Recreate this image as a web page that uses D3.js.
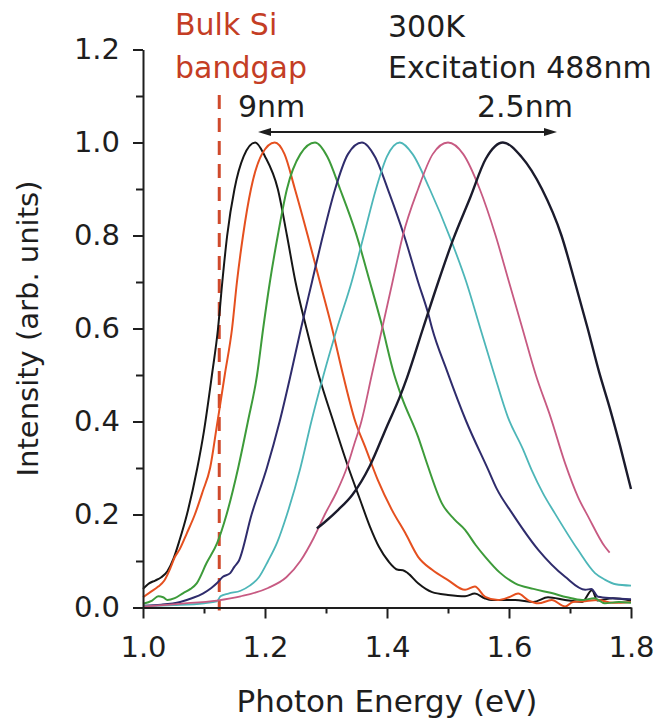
<!DOCTYPE html>
<html>
<head>
<meta charset="utf-8">
<script src="https://cdn.jsdelivr.net/npm/d3@7"></script>
<style>
  body { margin: 0; background: #fff; }
  svg { display: block; }
  text { font-family: 'DejaVu Sans', sans-serif; fill: #1e1e1e; }
</style>
</head>
<body>
<div id="chart"></div>
<script>
// x ticks / y ticks
var xTicks = [1.0, 1.2, 1.4, 1.6, 1.8]
var yTicks = [0.0, 0.2, 0.4, 0.6, 0.8, 1.0, 1.2]
var xMinor = [1.1, 1.3, 1.5, 1.7]
var yMinor = [0.1, 0.3, 0.5, 0.7, 0.9, 1.1]

var bandgap = 1.125

// spectra [photon energy eV, intensity]
var s9nm = [[1.000,0.040],[1.010,0.052],[1.020,0.058],[1.030,0.065],[1.040,0.078],[1.050,0.105],[1.060,0.145],[1.072,0.200],[1.089,0.300],[1.100,0.380],[1.113,0.500],[1.123,0.600],[1.130,0.700],[1.138,0.800],[1.150,0.900],[1.165,0.970],[1.184,1.000],[1.200,0.970],[1.221,0.900],[1.236,0.800],[1.250,0.700],[1.268,0.600],[1.288,0.500],[1.312,0.400],[1.337,0.300],[1.355,0.235],[1.372,0.174],[1.387,0.130],[1.402,0.100],[1.418,0.081],[1.426,0.080],[1.434,0.074],[1.451,0.052],[1.474,0.033],[1.500,0.027],[1.528,0.024],[1.544,0.030],[1.560,0.020],[1.572,0.016],[1.610,0.016],[1.640,0.012],[1.664,0.022],[1.692,0.016],[1.720,0.012],[1.736,0.037],[1.745,0.015],[1.770,0.020],[1.800,0.015]]
var s8nm = [[1.000,0.022],[1.012,0.033],[1.025,0.045],[1.035,0.058],[1.045,0.085],[1.052,0.108],[1.060,0.125],[1.072,0.160],[1.085,0.200],[1.098,0.250],[1.110,0.300],[1.121,0.390],[1.134,0.500],[1.146,0.600],[1.154,0.700],[1.164,0.800],[1.177,0.900],[1.195,0.975],[1.216,1.000],[1.232,0.975],[1.249,0.900],[1.270,0.800],[1.290,0.700],[1.310,0.600],[1.328,0.500],[1.348,0.400],[1.364,0.346],[1.385,0.274],[1.408,0.210],[1.430,0.160],[1.451,0.109],[1.474,0.081],[1.500,0.059],[1.528,0.038],[1.544,0.045],[1.561,0.023],[1.582,0.016],[1.600,0.022],[1.615,0.030],[1.631,0.016],[1.648,0.009],[1.670,0.016],[1.692,0.002],[1.705,0.012],[1.720,0.013],[1.746,0.016],[1.770,0.010],[1.800,0.012]]
var s6nm = [[1.000,0.008],[1.015,0.015],[1.025,0.024],[1.033,0.022],[1.040,0.016],[1.052,0.020],[1.066,0.031],[1.078,0.040],[1.088,0.052],[1.104,0.095],[1.122,0.140],[1.137,0.200],[1.156,0.300],[1.172,0.400],[1.187,0.500],[1.197,0.600],[1.208,0.700],[1.221,0.800],[1.236,0.900],[1.258,0.975],[1.282,1.000],[1.302,0.970],[1.323,0.900],[1.349,0.805],[1.372,0.700],[1.391,0.610],[1.412,0.500],[1.424,0.453],[1.451,0.367],[1.466,0.308],[1.490,0.224],[1.510,0.190],[1.528,0.167],[1.545,0.135],[1.561,0.109],[1.585,0.075],[1.610,0.052],[1.640,0.040],[1.670,0.031],[1.695,0.022],[1.720,0.016],[1.740,0.020],[1.757,0.009],[1.780,0.012],[1.800,0.010]]
var s5nm = [[1.000,0.004],[1.030,0.006],[1.061,0.012],[1.080,0.020],[1.098,0.030],[1.112,0.042],[1.121,0.052],[1.131,0.066],[1.143,0.074],[1.150,0.088],[1.157,0.100],[1.178,0.200],[1.203,0.300],[1.224,0.400],[1.242,0.500],[1.259,0.600],[1.277,0.700],[1.295,0.800],[1.315,0.900],[1.336,0.975],[1.359,1.000],[1.380,0.970],[1.404,0.890],[1.428,0.800],[1.451,0.700],[1.468,0.630],[1.474,0.600],[1.498,0.510],[1.530,0.400],[1.566,0.296],[1.580,0.255],[1.605,0.203],[1.648,0.124],[1.692,0.066],[1.725,0.038],[1.735,0.040],[1.746,0.023],[1.770,0.020],[1.800,0.018]]
var s4nm = [[1.000,0.003],[1.050,0.005],[1.100,0.009],[1.121,0.013],[1.127,0.024],[1.140,0.030],[1.160,0.036],[1.175,0.047],[1.190,0.065],[1.205,0.100],[1.220,0.140],[1.236,0.200],[1.258,0.300],[1.276,0.400],[1.296,0.500],[1.318,0.600],[1.342,0.700],[1.362,0.800],[1.382,0.900],[1.400,0.970],[1.421,1.000],[1.442,0.975],[1.470,0.900],[1.505,0.790],[1.530,0.700],[1.553,0.600],[1.575,0.505],[1.598,0.410],[1.623,0.340],[1.637,0.296],[1.656,0.245],[1.675,0.203],[1.713,0.124],[1.741,0.074],[1.757,0.060],[1.775,0.050],[1.800,0.047]]
var s3nm = [[1.000,0.002],[1.060,0.008],[1.121,0.015],[1.160,0.024],[1.205,0.042],[1.235,0.065],[1.258,0.100],[1.280,0.150],[1.298,0.200],[1.318,0.250],[1.334,0.300],[1.346,0.350],[1.358,0.400],[1.375,0.500],[1.392,0.600],[1.409,0.700],[1.426,0.800],[1.451,0.900],[1.475,0.975],[1.500,1.000],[1.525,0.975],[1.552,0.900],[1.578,0.800],[1.600,0.700],[1.622,0.600],[1.644,0.500],[1.668,0.410],[1.692,0.310],[1.713,0.238],[1.730,0.195],[1.757,0.131],[1.765,0.118]]
var s25nm = [[1.285,0.170],[1.300,0.186],[1.320,0.210],[1.343,0.242],[1.372,0.305],[1.400,0.390],[1.421,0.453],[1.433,0.495],[1.459,0.600],[1.484,0.700],[1.508,0.790],[1.536,0.880],[1.562,0.965],[1.590,1.000],[1.620,0.970],[1.654,0.900],[1.686,0.800],[1.708,0.700],[1.729,0.600],[1.748,0.505],[1.765,0.430],[1.782,0.348],[1.800,0.255]]

var series = [s9nm, s8nm, s6nm, s5nm, s4nm, s3nm, s25nm]
var colors = ['#161616', '#e5501f', '#3d9b3a', '#2f2c6c', '#4db6b8', '#c75a82', '#1b1b2c']
var widths = [2, 2, 2, 2, 1.8, 1.8, 2.4]

var width = 658
var height = 719
var margin = { left: 143, right: 27, top: 49.5, bottom: 111.5 }

var x = d3.scaleLinear().domain([1.0, 1.8]).range([margin.left, width - margin.right])
var y = d3.scaleLinear().domain([0, 1.2]).range([height - margin.bottom, margin.top])

var svg = d3.select('#chart').append('svg')
  .attr('width', width)
  .attr('height', height)

svg.append('rect').attr('width', width).attr('height', height).attr('fill', '#fff')

var line = d3.line()
  .x(function (d) { return x(d[0]) })
  .y(function (d) { return y(d[1]) })
  .curve(d3.curveMonotoneX)

// red dashed bandgap line
svg.append('line')
  .attr('x1', x(bandgap)).attr('x2', x(bandgap))
  .attr('y1', 95).attr('y2', y(0) + 3)
  .attr('stroke', '#cf4a2c')
  .attr('stroke-width', 3)
  .attr('stroke-dasharray', '14,9')

// spectra
svg.append('g').selectAll('path')
  .data(series)
  .enter().append('path')
  .attr('d', line)
  .attr('fill', 'none')
  .attr('stroke', function (d, i) { return colors[i] })
  .attr('stroke-width', function (d, i) { return widths[i] })
  .attr('stroke-linejoin', 'round')

// axes
var xAxis = d3.axisBottom(x).tickValues(xTicks).tickSize(11).tickSizeOuter(0).tickPadding(18)
  .tickFormat(d3.format('.1f'))
var yAxis = d3.axisLeft(y).tickValues(yTicks).tickSize(10).tickSizeOuter(0).tickPadding(13)
  .tickFormat(d3.format('.1f'))

svg.append('g').attr('transform', 'translate(0,' + y(0) + ')').call(xAxis)
svg.append('g').attr('transform', 'translate(' + x(1.0) + ',0)').call(yAxis)

svg.append('g').attr('transform', 'translate(0,' + y(0) + ')')
  .call(d3.axisBottom(x).tickValues(xMinor).tickSize(6).tickFormat(''))
  .select('.domain').remove()
svg.append('g').attr('transform', 'translate(' + x(1.0) + ',0)')
  .call(d3.axisLeft(y).tickValues(yMinor).tickSize(7).tickFormat(''))
  .select('.domain').remove()

svg.selectAll('.domain').attr('stroke', '#1e1e1e').attr('stroke-width', 2)
svg.selectAll('.tick line').attr('stroke', '#1e1e1e').attr('stroke-width', 2)
svg.selectAll('.tick text')
  .attr('font-family', "'DejaVu Sans', sans-serif")
  .attr('font-size', 29)
  .attr('fill', '#1e1e1e')

// axis titles
svg.append('text')
  .attr('x', x(1.4)).attr('y', 712)
  .attr('text-anchor', 'middle')
  .attr('font-size', 31)
  .text('Photon Energy (eV)')

svg.append('text')
  .attr('transform', 'translate(38,' + y(0.6) + ')rotate(-90)')
  .attr('text-anchor', 'middle')
  .attr('font-size', 29)
  .text('Intensity (arb. units)')

// annotations
svg.append('text').attr('x', 175).attr('y', 35).attr('font-size', 30)
  .style('fill', '#c43d24').text('Bulk Si')
svg.append('text').attr('x', 175).attr('y', 78).attr('font-size', 30)
  .style('fill', '#c43d24').text('bandgap')
svg.append('text').attr('x', 388).attr('y', 37).attr('font-size', 30).text('300K')
svg.append('text').attr('x', 388).attr('y', 78).attr('font-size', 30).text('Excitation 488nm')
svg.append('text').attr('x', 238).attr('y', 117).attr('font-size', 30).text('9nm')
svg.append('text').attr('x', 477).attr('y', 117).attr('font-size', 30).text('2.5nm')

// double arrow
var ay = 132
var ax1 = 258
var ax2 = 557
svg.append('line')
  .attr('x1', ax1 + 8).attr('x2', ax2 - 8)
  .attr('y1', ay).attr('y2', ay)
  .attr('stroke', '#1e1e1e').attr('stroke-width', 1.8)
svg.append('path')
  .attr('d', 'M' + ax1 + ',' + ay + 'L' + (ax1 + 13) + ',' + (ay - 4) + 'L' + (ax1 + 13) + ',' + (ay + 4) + 'Z')
  .attr('fill', '#1e1e1e')
svg.append('path')
  .attr('d', 'M' + ax2 + ',' + ay + 'L' + (ax2 - 13) + ',' + (ay - 4) + 'L' + (ax2 - 13) + ',' + (ay + 4) + 'Z')
  .attr('fill', '#1e1e1e')
</script>
</body>
</html>
